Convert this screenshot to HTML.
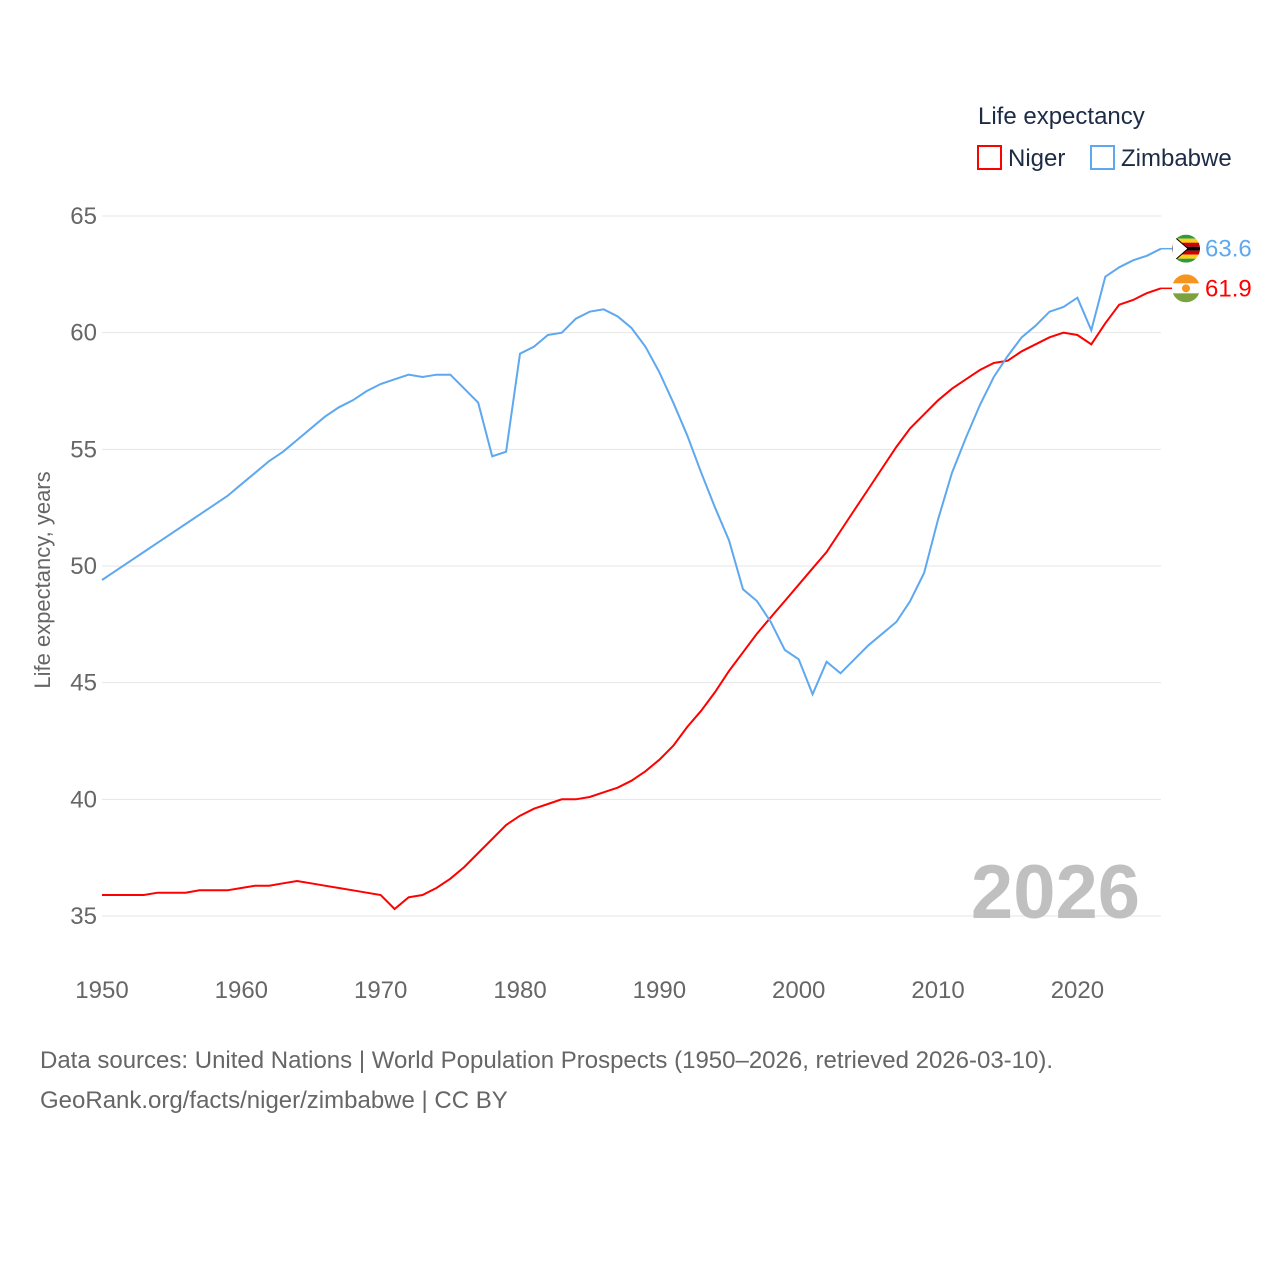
<!DOCTYPE html>
<html><head><meta charset="utf-8">
<style>
body{margin:0;background:#fff;font-family:"Liberation Sans",sans-serif;}
svg text{font-family:"Liberation Sans",sans-serif;}
</style></head>
<body>
<svg id="chart" width="1280" height="1280" viewBox="0 0 1280 1280">
<defs id="defs"></defs>
<g id="grid"></g>
<g id="yticks"></g>
<g id="xticks"></g>
<text x="50" y="580" transform="rotate(-90 50 580)" text-anchor="middle" font-size="22" fill="#666">Life expectancy, years</text>
<text x="1140" y="918" text-anchor="end" font-size="76" font-weight="bold" fill="#c0c0c0">2026</text>
<g>
<text x="978" y="124" font-size="24" fill="#1d2b45">Life expectancy</text>
<g><rect x="978" y="146" width="23" height="23" fill="none" stroke="#f00" stroke-width="2"/><text x="1008" y="166" font-size="24" fill="#1d2b45">Niger</text></g>
<g><rect x="1091" y="146" width="23" height="23" fill="none" stroke="#5ea8f0" stroke-width="2"/><text x="1121" y="166" font-size="24" fill="#1d2b45">Zimbabwe</text></g>
</g>
<g id="series"></g>
<g id="ends"></g>
<text x="40" y="1068" font-size="24" fill="#666">Data sources: United Nations | World Population Prospects (1950–2026, retrieved 2026-03-10).</text>
<text x="40" y="1108" font-size="24" fill="#666">GeoRank.org/facts/niger/zimbabwe | CC BY</text>
</svg>
<script>
const years=[];for(let y=1950;y<=2026;y++)years.push(y);
const niger=[35.9,35.9,35.9,35.9,36.0,36.0,36.0,36.1,36.1,36.1,36.2,36.3,36.3,36.4,36.5,36.4,36.3,36.2,36.1,36.0,35.9,35.3,35.8,35.9,36.2,36.6,37.1,37.7,38.3,38.9,39.3,39.6,39.8,40.0,40.0,40.1,40.3,40.5,40.8,41.2,41.7,42.3,43.1,43.8,44.6,45.5,46.3,47.1,47.8,48.5,49.2,49.9,50.6,51.5,52.4,53.3,54.2,55.1,55.9,56.5,57.1,57.6,58.0,58.4,58.7,58.8,59.2,59.5,59.8,60.0,59.9,59.5,60.4,61.2,61.4,61.7,61.9];
const zimbabwe=[49.4,49.8,50.2,50.6,51.0,51.4,51.8,52.2,52.6,53.0,53.5,54.0,54.5,54.9,55.4,55.9,56.4,56.8,57.1,57.5,57.8,58.0,58.2,58.1,58.2,58.2,57.6,57.0,54.7,54.9,59.1,59.4,59.9,60.0,60.6,60.9,61.0,60.7,60.2,59.4,58.3,57.0,55.6,54.0,52.5,51.1,49.0,48.5,47.6,46.4,46.0,44.5,45.9,45.4,46.0,46.6,47.1,47.6,48.5,49.7,52.0,54.0,55.5,56.9,58.1,59.0,59.8,60.3,60.9,61.1,61.5,60.1,62.4,62.8,63.1,63.3,63.6];
const yTicks=[35,40,45,50,55,60,65];
const xTicks=[1950,1960,1970,1980,1990,2000,2010,2020];
const NS="http://www.w3.org/2000/svg";
const X=y=>102+(y-1950)*(1161-102)/76;
const Y=v=>916-(v-35)*(916-216)/30;
function mk(t,a,p){const e=document.createElementNS(NS,t);for(const k in a)e.setAttribute(k,a[k]);p.appendChild(e);return e;}
const grid=document.getElementById('grid'),yt=document.getElementById('yticks'),xt=document.getElementById('xticks');
const defs=document.getElementById('defs');
yTicks.forEach(v=>{
 const l=mk('line',{x1:102,x2:1161,y1:Y(v),y2:Y(v),stroke:'#e6e6e6','stroke-width':1},grid);
 
 
 const t=mk('text',{x:97,y:Y(v)+8,'text-anchor':'end','font-size':24,fill:'#666'},yt);
 t.textContent=v;
 
 
});
xTicks.forEach(v=>{
 const t=mk('text',{x:X(v),y:998,'text-anchor':'middle','font-size':24,fill:'#666'},xt);
 t.textContent=v;
 
 
});
const sg=document.getElementById('series'),eg=document.getElementById('ends');
[[niger,'#f00','niger'],[zimbabwe,'#5ea8f0','zimbabwe']].forEach(([d,c,n])=>{
 const p=mk('path',{d:d.map((v,i)=>(i?'L':'M')+X(years[i]).toFixed(1)+','+Y(v).toFixed(1)).join(''),fill:'none',stroke:c,'stroke-width':2},sg);
 
 
 const last=d[d.length-1],ly=Y(last);
 mk('line',{x1:X(2026),x2:1176,y1:ly,y2:ly,stroke:c,'stroke-width':1.5},eg);
 const cp=mk('clipPath',{id:'clip-'+n},defs);
 mk('circle',{cx:1186,cy:ly,r:14},cp);
 const f=mk('g',{'clip-path':'url(#clip-'+n+')'},eg);
 
 
 if(n==='niger'){
  mk('rect',{x:1172,y:ly-14,width:28,height:28,fill:'#fff'},f);
  mk('rect',{x:1172,y:ly-14,width:28,height:9,fill:'#f7941d'},f);
  mk('rect',{x:1172,y:ly+5,width:28,height:9,fill:'#7ba23f'},f);
  mk('circle',{cx:1186,cy:ly,r:4,fill:'#f7941d'},f);
 }else{
  const cols=['#319a3c','#fcd116','#d40000','#000','#d40000','#fcd116','#319a3c'];
  cols.forEach((cc,i)=>mk('rect',{x:1172,y:ly-14+i*4,width:28,height:4,fill:cc},f));
  mk('path',{d:`M1172,${ly-14}L1188,${ly}L1172,${ly+14}Z`,fill:'#fff',stroke:'#000','stroke-width':1},f);
 }
 const t=mk('text',{x:1205,y:ly+8,'font-size':24,fill:c},eg);
 t.textContent=last.toFixed(1);
 
 
});
</script>
</body></html>
